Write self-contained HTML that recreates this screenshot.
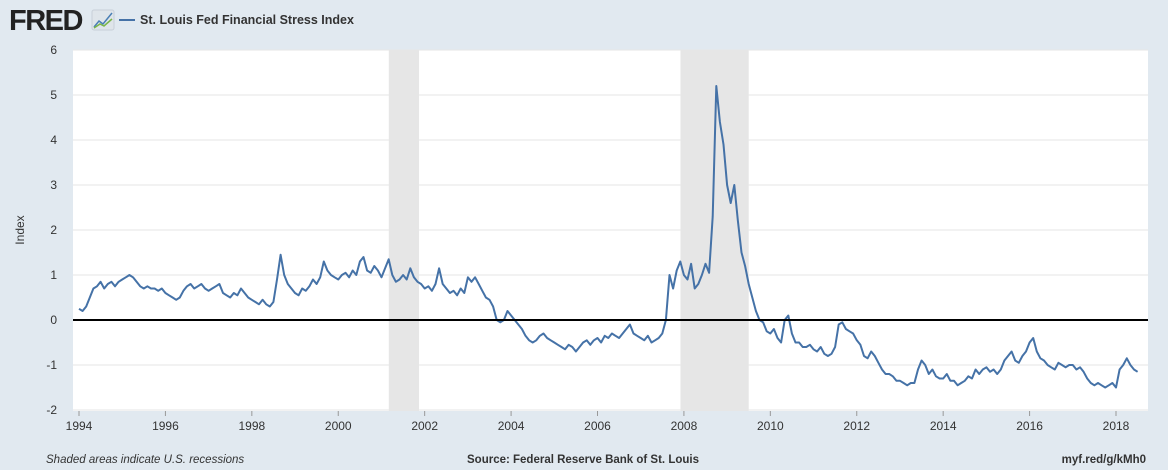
<!DOCTYPE html>
<html><head><meta charset="utf-8"><style>
body{margin:0;background:#e1e9f0;font-family:"Liberation Sans",sans-serif;}
svg{display:block}
</style></head><body>
<svg width="1168" height="470">
<rect width="1168" height="470" fill="#e1e9f0"/>
<text x="9" y="30" font-size="29" font-weight="bold" fill="#222" letter-spacing="-1.5">FRED</text>
<g><rect x="92" y="10" width="22" height="20" rx="2" fill="#dfe5ea" stroke="#c8d0d8"/><polyline points="94,27 99,21 103,24 112,13" fill="none" stroke="#4a7fb5" stroke-width="1.5"/><polyline points="94,28 100,24 104,26 112,19" fill="none" stroke="#7ab648" stroke-width="1.5"/></g>
<line x1="119" y1="20" x2="135" y2="20" stroke="#4572a7" stroke-width="2"/>
<text x="140" y="24" font-size="12.5" font-weight="bold" fill="#333">St. Louis Fed Financial Stress Index</text>
<rect x="73" y="50" width="1075" height="361" fill="#fff"/>
<g id="grid"></g><g id="rec"></g><g id="ylab"></g><g id="xlab"></g>
<path id="line" fill="none" stroke="#4572a7" stroke-width="2" stroke-linejoin="round"/>
<line x1="73" x2="1148" y1="320" y2="320" stroke="#000" stroke-width="2"/>
<text x="24" y="230" font-size="12" fill="#333" transform="rotate(-90 24 230)" text-anchor="middle">Index</text>
<text x="46" y="463" font-size="11.5" font-style="italic" fill="#333">Shaded areas indicate U.S. recessions</text>
<text x="583" y="463" font-size="11.5" font-weight="bold" fill="#333" text-anchor="middle">Source: Federal Reserve Bank of St. Louis</text>
<text x="1146" y="463" font-size="11.5" font-weight="bold" fill="#333" text-anchor="end">myf.red/g/kMh0</text>
</svg>
<script>
const yTicks=[-2,-1,0,1,2,3,4,5,6];
const xTicks=[1994,1996,1998,2000,2002,2004,2006,2008,2010,2012,2014,2016,2018];
const recessions=[[2001.17,2001.87],[2007.92,2009.5]];
const startYear=1994;
const values=[
0.25,0.2,0.3,0.5,0.7,0.75,0.85,0.7,0.8,0.85,0.75,0.85,
0.9,0.95,1.0,0.95,0.85,0.75,0.7,0.75,0.7,0.7,0.65,0.7,
0.6,0.55,0.5,0.45,0.5,0.65,0.75,0.8,0.7,0.75,0.8,0.7,
0.65,0.7,0.75,0.8,0.6,0.55,0.5,0.6,0.55,0.7,0.6,0.5,
0.45,0.4,0.35,0.45,0.35,0.3,0.4,0.9,1.45,1.0,0.8,0.7,
0.6,0.55,0.7,0.65,0.75,0.9,0.8,0.95,1.3,1.1,1.0,0.95,
0.9,1.0,1.05,0.95,1.1,1.0,1.3,1.4,1.1,1.05,1.2,1.1,
0.95,1.15,1.35,1.0,0.85,0.9,1.0,0.9,1.15,0.95,0.85,0.8,
0.7,0.75,0.65,0.8,1.15,0.8,0.7,0.6,0.65,0.55,0.7,0.6,
0.95,0.85,0.95,0.8,0.65,0.5,0.45,0.3,0.0,-0.05,0.0,0.2,
0.1,0.0,-0.1,-0.2,-0.35,-0.45,-0.5,-0.45,-0.35,-0.3,-0.4,-0.45,
-0.5,-0.55,-0.6,-0.65,-0.55,-0.6,-0.7,-0.6,-0.5,-0.45,-0.55,-0.45,
-0.4,-0.5,-0.35,-0.4,-0.3,-0.35,-0.4,-0.3,-0.2,-0.1,-0.3,-0.35,
-0.4,-0.45,-0.35,-0.5,-0.45,-0.4,-0.3,0.0,1.0,0.7,1.1,1.3,
1.0,0.9,1.25,0.7,0.8,1.0,1.25,1.05,2.3,5.2,4.4,3.9,
3.0,2.6,3.0,2.2,1.5,1.2,0.8,0.5,0.2,0.0,-0.05,-0.25,
-0.3,-0.2,-0.4,-0.5,0.0,0.1,-0.3,-0.5,-0.5,-0.6,-0.6,-0.55,
-0.65,-0.7,-0.6,-0.75,-0.8,-0.75,-0.6,-0.1,-0.05,-0.2,-0.25,-0.3,
-0.45,-0.55,-0.8,-0.85,-0.7,-0.8,-0.95,-1.1,-1.2,-1.2,-1.25,-1.35,
-1.35,-1.4,-1.45,-1.4,-1.4,-1.1,-0.9,-1.0,-1.2,-1.1,-1.25,-1.3,
-1.3,-1.2,-1.35,-1.35,-1.45,-1.4,-1.35,-1.25,-1.3,-1.1,-1.2,-1.1,
-1.05,-1.15,-1.1,-1.2,-1.1,-0.9,-0.8,-0.7,-0.9,-0.95,-0.8,-0.7,
-0.5,-0.4,-0.7,-0.85,-0.9,-1.0,-1.05,-1.1,-0.95,-1.0,-1.05,-1.0,
-1.0,-1.1,-1.05,-1.15,-1.3,-1.4,-1.45,-1.4,-1.45,-1.5,-1.45,-1.4,
-1.5,-1.1,-1.0,-0.85,-1.0,-1.1,-1.15];
const NS='http://www.w3.org/2000/svg';
const xS=t=>79+(t-1994)*(1116-79)/24;
const yS=v=>320-v*45;
function mk(tag,attrs,parent){const e=document.createElementNS(NS,tag);for(const k in attrs)e.setAttribute(k,attrs[k]);document.getElementById(parent).appendChild(e);return e;}
yTicks.forEach(v=>{
 const g=mk('line',{x1:73,x2:1148,y1:yS(v),y2:yS(v),stroke:'#e6e6e6','stroke-width':1},'grid');
 
 
 const t=mk('text',{x:57,y:yS(v)+4,'font-size':12,fill:'#333','text-anchor':'end'},'ylab');
 t.textContent=v;
 
 
});
recessions.forEach(r=>{
 const e=mk('rect',{x:xS(r[0]),y:50,width:xS(r[1])-xS(r[0]),height:361,fill:'#e6e6e6'},'rec');
 
 
});
xTicks.forEach(y=>{
 const t=mk('text',{x:xS(y),y:430,'font-size':12,fill:'#333','text-anchor':'middle'},'xlab');
 t.textContent=y;
 
 
 const k=mk('line',{x1:xS(y),x2:xS(y),y1:411,y2:416,stroke:'#999'},'xlab');
 
 
});
let d='';
values.forEach((v,i)=>{d+=(i?'L':'M')+xS(startYear+i/12).toFixed(1)+','+yS(v).toFixed(1);});
document.getElementById('line').setAttribute('d',d);
</script>
</body></html>
